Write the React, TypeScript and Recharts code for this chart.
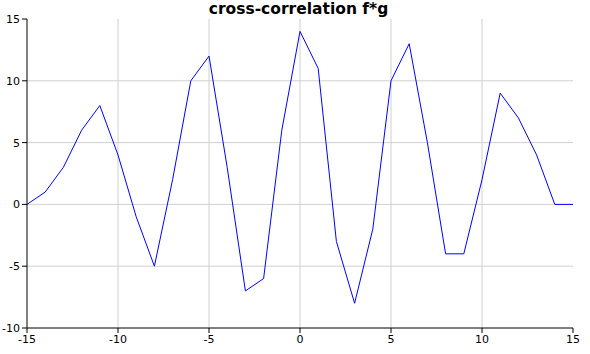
import React from 'react';
import { LineChart, Line, XAxis, YAxis, CartesianGrid } from 'recharts';

const lags = [-15, -14, -13, -12, -11, -10, -9, -8, -7, -6, -5, -4, -3, -2, -1, 0, 1, 2, 3, 4, 5, 6, 7, 8, 9, 10, 11, 12, 13, 14, 15];
const values = [0, 1, 3, 6, 8, 4, -1, -5, 2, 10, 12, 3, -7, -6, 6, 14, 11, -3, -8, -2, 10, 13, 5, -4, -4, 2, 9, 7, 4, 0, 0];
const xTicks = [-15, -10, -5, 0, 5, 10, 15];
const yTicks = [-10, -5, 0, 5, 10, 15];

const data = lags.map((lag, i) => ({ lag, value: values[i] }));

const tickStyle = { fontFamily: 'DejaVu Sans', fontSize: 11, fill: '#000' };

const App = (): JSX.Element => {
  return (
    <div style={{ position: 'absolute', left: 0, top: 0, width: 590, height: 354, background: '#fff' }}>
      <div
        style={{
          position: 'absolute',
          left: 0,
          top: 0,
          width: 597,
          textAlign: 'center',
          fontFamily: 'DejaVu Sans',
          fontWeight: 'bold',
          fontSize: 15.5,
          lineHeight: '19px',
        }}
      >
        cross-correlation f*g
      </div>
      <LineChart width={590} height={354} data={data} margin={{ top: 19, right: 17, bottom: 0, left: 0 }}>
        <CartesianGrid
          stroke="#d0d0d0"
          verticalValues={[-10, -5, 0, 5, 10]}
          horizontalValues={[-5, 0, 5, 10]}
        />
        <XAxis
          dataKey="lag"
          type="number"
          domain={[-15, 15]}
          ticks={xTicks}
          height={26}
          tickSize={5}
          stroke="#000"
          tick={tickStyle}
          allowDataOverflow
        />
        <YAxis
          type="number"
          domain={[-10, 15]}
          ticks={yTicks}
          width={27}
          tickSize={5}
          stroke="#000"
          tick={tickStyle}
          allowDataOverflow
        />
        <Line
          type="linear"
          dataKey="value"
          stroke="#0000ff"
          strokeWidth={1}
          dot={false}
          isAnimationActive={false}
        />
      </LineChart>
    </div>
  );
};

export default App;
